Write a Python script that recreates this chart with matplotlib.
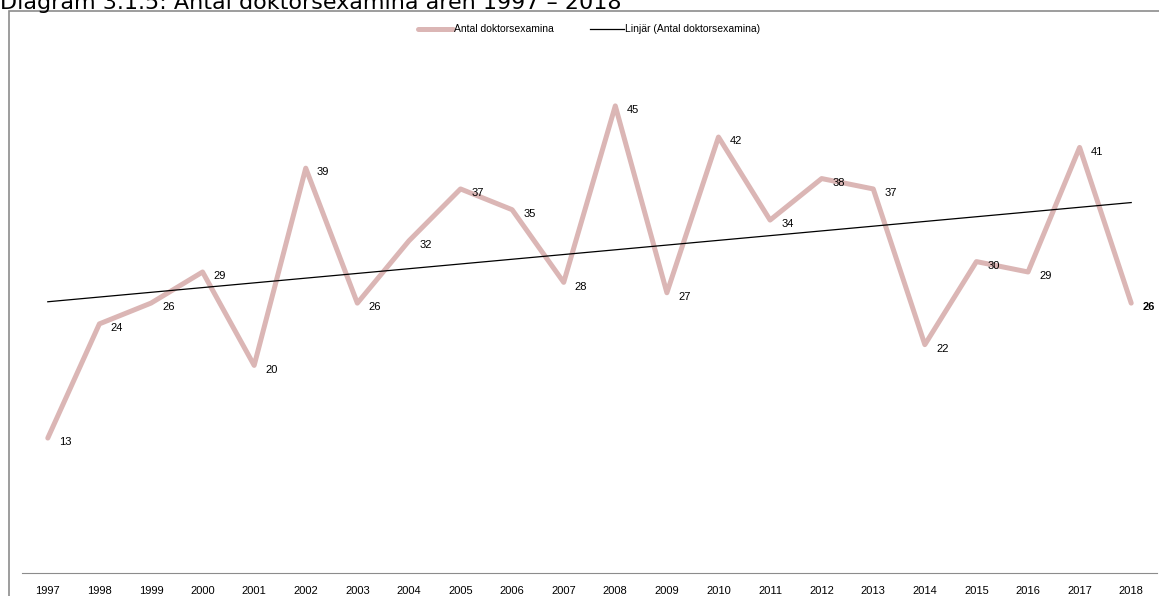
import numpy as np
from matplotlib import pyplot as plt
from matplotlib.patches import Rectangle

years = [str(y) for y in range(1997, 2019)]
antal = [13, 24, 26, 29, 20, 39, 26, 32, 37, 35, 28, 45, 27, 42, 34, 38, 37, 22, 30, 29, 41, 26]

title = 'Diagram 3.1.5: Antal doktorsexamina åren 1997 – 2018'
serie_namn = 'Antal doktorsexamina'
trend_namn = 'Linjär (Antal doktorsexamina)'

W, H = 1159, 596
fig = plt.figure(figsize=(W / 100, H / 100), dpi=100)
plt.rcParams['font.family'] = ['Liberation Sans', 'DejaVu Sans']

# ram runt diagrammet
fig.patches.append(Rectangle((9 / W, -0.1), 1.2, (H - 11) / H + 0.1, transform=fig.transFigure,
                             fill=False, edgecolor='#8c8c8c', linewidth=1.2))
fig.text(0, (H - 9) / H, title, family='DejaVu Sans', fontsize=16, va='baseline', ha='left')

ax = fig.add_axes([22 / W, 23 / H, (1157 - 22) / W, (573 - 54) / H])
x = np.arange(len(years))
ax.plot(x, antal, color='#dbb6b5', linewidth=3.6, label=serie_namn, solid_capstyle='round')

k, m = np.polyfit(x, antal, 1)
ax.plot(x, k * x + m, color='black', linewidth=0.9, label=trend_namn)

for i, v in enumerate(antal):
    ax.annotate(str(v), (i, v), xytext=(8, -3), textcoords='offset points', fontsize=8,
                va='center', ha='left', fontweight='bold' if i == len(antal) - 1 else 'normal')

ax.set_xlim(-0.5, len(years) - 0.5)
ax.set_ylim(0, 50)
ax.set_xticks(x)
ax.set_xticklabels(years, fontsize=8)
ax.tick_params(axis='x', length=0, pad=9)
ax.set_yticks([])
for s in ['top', 'right', 'left']:
    ax.spines[s].set_visible(False)
ax.spines['bottom'].set_color('#8c8c8c')

ax.legend(loc='upper center', bbox_to_anchor=(0.5, 1.075), ncol=2, frameon=False, fontsize=7.5,
          handlelength=3.3, handletextpad=0.1, columnspacing=3.5)

fig.savefig('out.png', dpi=100)
